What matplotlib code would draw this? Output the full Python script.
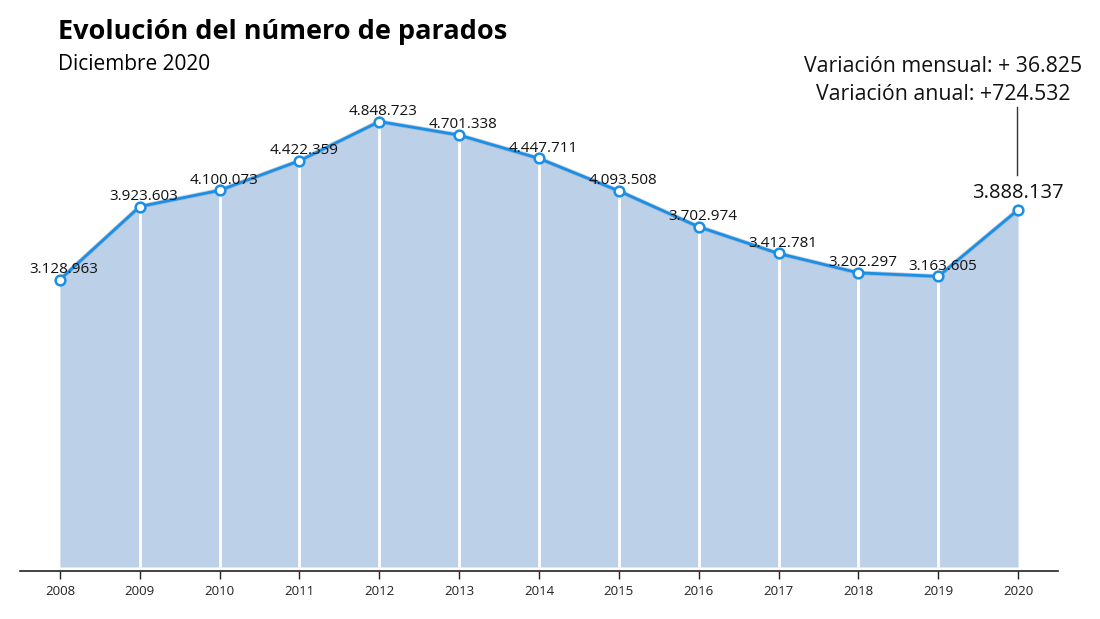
import matplotlib
matplotlib.use("Agg")
import matplotlib.pyplot as plt

years = [2008, 2009, 2010, 2011, 2012, 2013, 2014, 2015, 2016, 2017, 2018, 2019, 2020]
parados = [3128963, 3923603, 4100073, 4422359, 4848723, 4701338, 4447711,
           4093508, 3702974, 3412781, 3202297, 3163605, 3888137]
labels = ["3.128.963", "3.923.603", "4.100.073", "4.422.359", "4.848.723", "4.701.338",
          "4.447.711", "4.093.508", "3.702.974", "3.412.781", "3.202.297", "3.163.605",
          "3.888.137"]
title = "Evolución del número de parados"
subtitle = "Diciembre 2020"
var_line1 = "Variación mensual: + 36.825"
var_line2 = "Variación anual: +724.532"

plt.rcParams['font.family'] = ['Open Sans', 'DejaVu Sans']

W, H = 1100, 619
fig = plt.figure(figsize=(W / 100, H / 100), dpi=100)
ax_left, ax_right, ax_bottom, ax_top = 20, 1058, 571, 100
ax = fig.add_axes([ax_left / W, 1 - ax_bottom / H, (ax_right - ax_left) / W, (ax_bottom - ax_top) / H])

px_per_unit = 91.87 / 1e6
ymin = -4 / px_per_unit
ymax = (567 - ax_top) / px_per_unit
ax.set_xlim(2007.5, 2020.5)
ax.set_ylim(ymin, ymax)

fill_c = "#bcd0e8"
line_c = "#1a8fe6"
ax.fill_between(years, 0, parados, color=fill_c, lw=0, zorder=1)
ax.vlines(years[1:-1], 0, parados[1:-1], color="white", lw=2, zorder=2)
ax.plot(years, parados, color="#8a9bb5", lw=3.2, alpha=0.5, zorder=3)
ax.plot(years, parados, color=line_c, lw=2, zorder=4,
        marker="o", markersize=7, markerfacecolor="white",
        markeredgecolor=line_c, markeredgewidth=1.8)

for x, y, lab in zip(years[:-1], parados[:-1], labels[:-1]):
    ax.annotate(lab, (x, y), xytext=(3, 2), textcoords="offset points",
                ha="center", va="bottom", fontsize=11, color="#111111", zorder=5)

ax.annotate(labels[-1], (years[-1], parados[-1]), xytext=(0, 5), textcoords="offset points",
            ha="center", va="bottom", fontsize=14.5, color="#111111", zorder=5)

# connector line for variation annotation
y_top = (567 - 107) / px_per_unit
y_bot = (567 - 175) / px_per_unit
ax.plot([years[-1] - 0.01, years[-1] - 0.01], [y_bot, y_top], color="#333333", lw=1, zorder=5,
        clip_on=False)
fig.text(943 / W, 1 - 67 / H, var_line1, ha="center", va="center", fontsize=15.3, color="#111111")
fig.text(943 / W, 1 - 95 / H, var_line2, ha="center", va="center", fontsize=15.3, color="#111111")

for s in ["top", "right", "left"]:
    ax.spines[s].set_visible(False)
ax.spines["bottom"].set_color("#222222")
ax.spines["bottom"].set_linewidth(1.2)
ax.set_yticks([])
ax.set_xticks(years)
ax.set_xticklabels([str(y) for y in years], fontsize=9.5, color="#222222")
ax.tick_params(axis="x", length=6, width=1, color="#222222", pad=4)

fig.text(58 / W, 1 - 32 / H, title, ha="left", va="center", fontsize=19.5, fontweight="bold",
         color="#000000")
fig.text(58 / W, 1 - 64 / H, subtitle, ha="left", va="center", fontsize=15, color="#000000")

fig.savefig("out.png", dpi=100)
